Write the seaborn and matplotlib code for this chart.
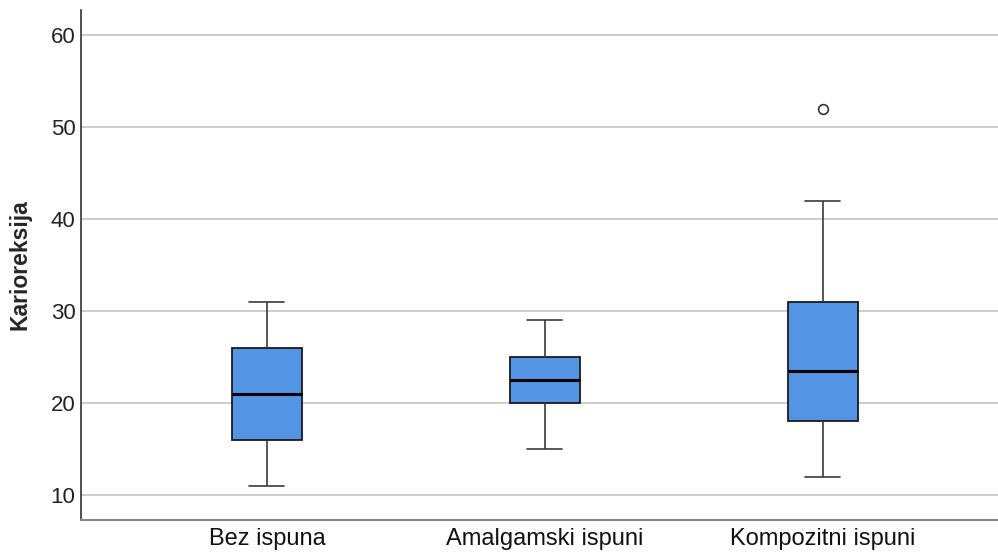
import matplotlib
matplotlib.use("Agg")
import matplotlib.pyplot as plt
import seaborn as sns
import pandas as pd

categories = ["Bez ispuna", "Amalgamski ispuni", "Kompozitni ispuni"]
# representative samples reproducing the read box statistics
bez_ispuna = [11, 16, 21, 26, 31]
amalgamski = [15, 20, 22.5, 25, 29]
kompozitni = [12, 15, 18, 20, 23.5, 27, 31, 42, 52]
y_ticks = [10, 20, 30, 40, 50, 60]
y_label = "Karioreksija"

rows = []
for cat, vals in zip(categories, [bez_ispuna, amalgamski, kompozitni]):
    for v in vals:
        rows.append({"grupa": cat, "vrijednost": v})
df = pd.DataFrame(rows)

sns.set_style("white")
plt.rcParams["font.family"] = ["Liberation Sans", "DejaVu Sans"]

fig = plt.figure(figsize=(9.98, 5.53), dpi=100)
ax = fig.add_axes([0.0812, 0.0597, 0.9188, 0.9222])

ax.yaxis.grid(True, color="#c4c4c4", linewidth=1.2, zorder=0)
ax.set_axisbelow(True)

sns.boxplot(data=df, x="grupa", y="vrijednost", order=categories, ax=ax,
            color="#5394E4", saturation=1, width=0.252, whis=1.5,
            linecolor="#3a3a3a", linewidth=1.2,
            boxprops=dict(edgecolor="#1a1a1a", linewidth=1.3),
            medianprops=dict(color="black", linewidth=2.2),
            flierprops=dict(marker="o", markersize=7, markerfacecolor="white",
                            markeredgecolor="#333333", markeredgewidth=1.2))

ax.set_xlim(-0.669, 2.63)
ax.set_ylim(7.28, 62.72)
ax.set_yticks(y_ticks)
ax.set_xlabel("")
ax.set_ylabel(y_label, fontsize=16.5, fontweight="bold", labelpad=14)
ax.tick_params(axis="y", labelsize=16, length=0, pad=4, colors="#222222")
ax.tick_params(axis="x", labelsize=17, length=0, pad=6, colors="#111111")

for s in ["top", "right"]:
    ax.spines[s].set_visible(False)
ax.spines["left"].set_color("#333333")
ax.spines["bottom"].set_color("#888888")
ax.spines["left"].set_linewidth(1.2)
ax.spines["bottom"].set_linewidth(1.5)

fig.savefig("out.png", dpi=100)
